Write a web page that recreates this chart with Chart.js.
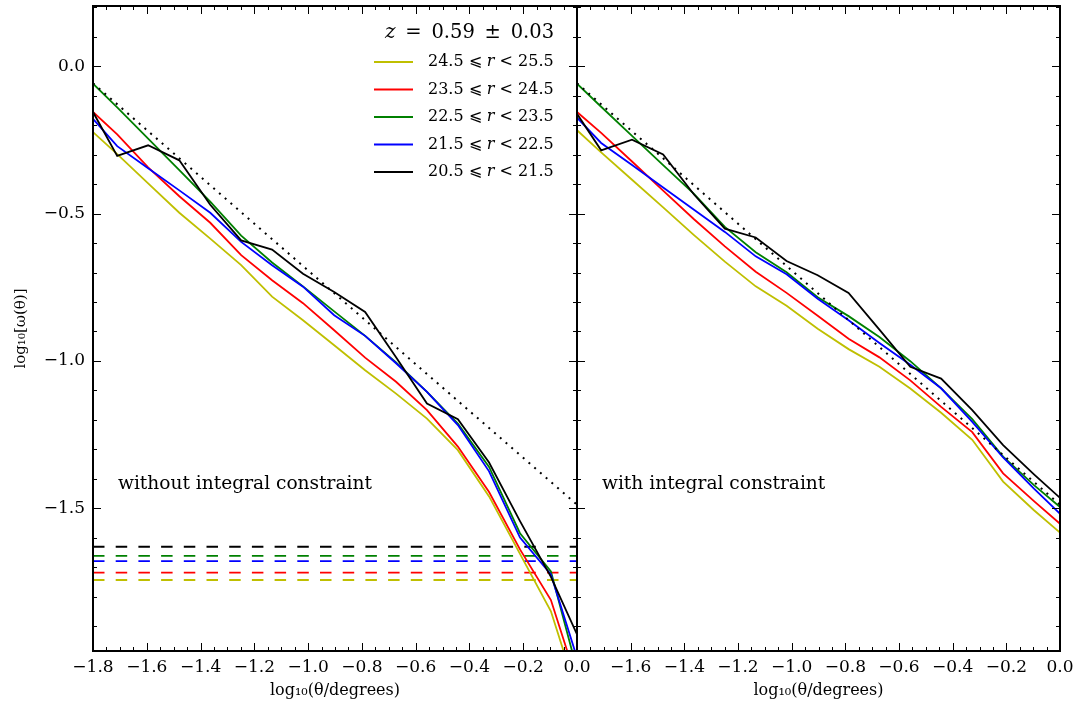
<!DOCTYPE html>
<html><head><meta charset="utf-8">
<script src="https://cdn.jsdelivr.net/npm/chart.js@4/dist/chart.umd.min.js"></script>
<style>
html,body{margin:0;padding:0;background:#fff;}
#wrap{position:relative;width:1084px;height:702px;background:#fff;}
canvas{position:absolute;left:0;top:0;}
</style></head><body>
<div id="wrap"><canvas id="cL" width="1084" height="702"></canvas><canvas id="cR" width="1084" height="702"></canvas></div>
<script>
// ---------- data ----------
const logTheta = [-1.8, -1.71, -1.595, -1.479, -1.364, -1.249, -1.134, -1.019, -0.903, -0.788, -0.673, -0.558, -0.443, -0.327, -0.212, -0.097, 0.018];

const seriesNames = ['24.5 ⩽ r < 25.5', '23.5 ⩽ r < 24.5', '22.5 ⩽ r < 23.5', '21.5 ⩽ r < 22.5', '20.5 ⩽ r < 21.5'];
const seriesColors = ['#bfbf00', '#ff0000', '#008000', '#0000ff', '#000000'];

// without integral constraint (left panel)
const noIC_r245 = [-0.223, -0.298, -0.397, -0.497, -0.585, -0.675, -0.782, -0.862, -0.947, -1.032, -1.111, -1.196, -1.303, -1.460, -1.655, -1.850, -2.180];
const noIC_r235 = [-0.155, -0.231, -0.343, -0.441, -0.531, -0.641, -0.726, -0.804, -0.896, -0.989, -1.071, -1.167, -1.291, -1.445, -1.640, -1.812, -2.140];
const noIC_r225 = [-0.059, -0.139, -0.245, -0.352, -0.459, -0.575, -0.666, -0.747, -0.832, -0.915, -1.005, -1.105, -1.213, -1.360, -1.585, -1.715, -2.110];
const noIC_r215 = [-0.178, -0.271, -0.346, -0.421, -0.497, -0.596, -0.675, -0.748, -0.845, -0.915, -1.008, -1.105, -1.218, -1.375, -1.600, -1.725, -2.060];
const noIC_r205 = [-0.155, -0.304, -0.268, -0.319, -0.470, -0.591, -0.622, -0.704, -0.766, -0.834, -0.988, -1.145, -1.198, -1.345, -1.544, -1.733, -1.965];

// with integral constraint (right panel)
const IC_r245 = [-0.217, -0.292, -0.385, -0.479, -0.573, -0.663, -0.747, -0.813, -0.891, -0.960, -1.020, -1.094, -1.176, -1.268, -1.410, -1.507, -1.597];
const IC_r235 = [-0.155, -0.226, -0.323, -0.422, -0.519, -0.611, -0.697, -0.769, -0.847, -0.925, -0.988, -1.066, -1.156, -1.242, -1.382, -1.476, -1.567];
const IC_r225 = [-0.059, -0.137, -0.236, -0.335, -0.433, -0.545, -0.631, -0.699, -0.784, -0.848, -0.919, -1.001, -1.093, -1.198, -1.325, -1.422, -1.510];
const IC_r215 = [-0.174, -0.260, -0.335, -0.411, -0.487, -0.562, -0.645, -0.706, -0.789, -0.862, -0.939, -1.013, -1.093, -1.207, -1.328, -1.434, -1.535];
const IC_r205 = [-0.161, -0.285, -0.249, -0.299, -0.435, -0.551, -0.581, -0.661, -0.709, -0.769, -0.894, -1.020, -1.060, -1.167, -1.286, -1.385, -1.480];

// integral constraint levels (dashed, left panel)
const icLevels = [-1.744, -1.719, -1.662, -1.680, -1.631];

// power-law reference (dotted)
const powerLawX = [-1.8, 0.0];
const powerLawY = [-0.057, -1.488];

// axes
const xRange = [-1.8, 0.0];
const yRange = [-1.985, 0.205];
const xMajorTicks = [-1.8, -1.6, -1.4, -1.2, -1.0, -0.8, -0.6, -0.4, -0.2, 0.0];
const yMajorTicks = [0.0, -0.5, -1.0, -1.5];
const xMinorStep = 0.05;
const yMinorStep = 0.1;

const legendTitle = 'z = 0.59 ± 0.03';
const panelNotes = ['without integral constraint', 'with integral constraint'];
const xTitle = 'log₁₀(θ/degrees)';
const yTitle = 'log₁₀[ω(θ)]';

// ---------- helpers ----------
const SERIF = '"DejaVu Serif", serif';
function fmt(v) {
  const s = Math.abs(v).toFixed(1);
  return (v < -1e-9 ? '\u2212' : '') + s;
}
function xy(xs, ys) { return xs.map((x, i) => ({x, y: ys[i]})); }

function buildDatasets(panel) {
  const sets = panel === 0
    ? [noIC_r245, noIC_r235, noIC_r225, noIC_r215, noIC_r205]
    : [IC_r245, IC_r235, IC_r225, IC_r215, IC_r205];
  const ds = [];
  sets.forEach((arr, i) => {
    ds.push({label: seriesNames[i], data: xy(logTheta, arr), borderColor: seriesColors[i],
      borderWidth: 1.8, pointRadius: 0, fill: false, tension: 0, order: 10 - i, clip: 0});
  });
  ds.push({label: 'power law', data: xy(powerLawX, powerLawY), borderColor: '#000',
    borderWidth: 2, borderDash: [2, 5.6], pointRadius: 0, fill: false, order: 0, clip: 0});
  if (panel === 0) {
    icLevels.forEach((v, i) => {
      ds.push({label: 'IC ' + seriesNames[i], data: xy(xRange, [v, v]), borderColor: seriesColors[i],
        borderWidth: 1.8, borderDash: [11.5, 11.2], pointRadius: 0, fill: false, order: 20 - i, clip: 0});
    });
  }
  return ds;
}

function richText(ctx, parts, x, y) {
  let cx = x;
  for (const p of parts) { ctx.font = p.f; ctx.fillText(p.t, cx, y); cx += ctx.measureText(p.t).width; }
}

const framePlugin = {
  id: 'frame',
  afterDraw(chart, args, opts) {
    const {ctx, chartArea: a, scales: {x, y}} = chart;
    ctx.save();
    ctx.strokeStyle = '#000';
    ctx.lineWidth = 1;
    const seg = (x1, y1, x2, y2) => { ctx.beginPath(); ctx.moveTo(x1, y1); ctx.lineTo(x2, y2); ctx.stroke(); };
    for (let v = xRange[0]; v <= xRange[1] + 1e-9; v += xMinorStep) {
      const p = Math.round(x.getPixelForValue(v)) + 0.5;
      seg(p, a.bottom, p, a.bottom - 4); seg(p, a.top, p, a.top + 4);
    }
    for (const v of xMajorTicks) {
      const p = Math.round(x.getPixelForValue(v)) + 0.5;
      seg(p, a.bottom, p, a.bottom - 8); seg(p, a.top, p, a.top + 8);
    }
    for (let v = -1.9; v <= yRange[1] + 1e-9; v += yMinorStep) {
      const p = Math.round(y.getPixelForValue(v)) + 0.5;
      seg(a.left, p, a.left + 4, p); seg(a.right, p, a.right - 4, p);
    }
    for (const v of yMajorTicks) {
      const p = Math.round(y.getPixelForValue(v)) + 0.5;
      seg(a.left, p, a.left + 8, p); seg(a.right, p, a.right - 8, p);
    }
    ctx.lineWidth = 2;
    ctx.strokeRect(a.left, a.top, a.right - a.left, a.bottom - a.top);

    ctx.fillStyle = '#000';
    ctx.font = '18.6px ' + SERIF;
    ctx.textBaseline = 'middle';
    ctx.textAlign = 'left';
    ctx.fillText(panelNotes[opts.panel], a.left + 25, a.top + 478);

    if (opts.panel === 0) {
      const lx = a.right - 203, tx = a.right - 149;
      const normal = '16px ' + SERIF, ital = 'italic 16px ' + SERIF;
      const zt = legendTitle.slice(0, 1), rest = legendTitle.slice(1);
      richText(ctx, [{t: zt, f: 'italic 20px ' + SERIF}, {t: rest.replace(/ /g, '\u2002'), f: '19.5px ' + SERIF}], a.right - 192, a.top + 27);
      seriesNames.forEach((name, i) => {
        const yy = a.top + 56 + i * 27.5;
        ctx.strokeStyle = seriesColors[i];
        ctx.lineWidth = 2;
        seg(lx, yy, lx + 39, yy);
        const [pre, post] = name.split(' r ');
        richText(ctx, [{t: pre + ' ', f: normal}, {t: 'r', f: ital}, {t: ' ' + post, f: normal}], tx, yy);
      });
    }
    ctx.restore();
  }
};

function makeChart(id, panel) {
  const padL = panel === 0 ? 0 : 577;
  const padR = panel === 0 ? 1084 - 577 : 1084 - 1060;
  return new Chart(document.getElementById(id), {
    type: 'line',
    data: {datasets: buildDatasets(panel)},
    plugins: [framePlugin],
    options: {
      responsive: false, animation: false, devicePixelRatio: 1,
      layout: {padding: {left: padL, right: padR, top: 6, bottom: 0}},
      plugins: {legend: {display: false}, tooltip: {enabled: false}, frame: {panel}},
      scales: {
        x: {
          type: 'linear', min: xRange[0], max: xRange[1],
          grid: {display: false, drawTicks: false}, border: {display: false},
          afterBuildTicks: s => { s.ticks = xMajorTicks.map(v => ({value: v})); },
          afterFit: s => { s.height = 51; s.paddingLeft = 0; s.paddingRight = 0; },
          ticks: {
            color: '#000', font: {family: SERIF, size: 17}, padding: 6, maxRotation: 0, autoSkip: false,
            callback: v => (panel === 1 && Math.abs(v - xRange[0]) < 1e-9) ? '' : fmt(v)
          },
          title: {display: true, text: xTitle, color: '#000', font: {family: SERIF, size: 16}, padding: {top: 0, bottom: 2}}
        },
        y: {
          type: 'linear', min: yRange[0], max: yRange[1], display: panel === 0,
          grid: {display: false, drawTicks: false}, border: {display: false},
          afterBuildTicks: s => { s.ticks = yMajorTicks.map(v => ({value: v})); },
          afterFit: s => { if (panel === 0) s.width = 93; s.paddingTop = 0; s.paddingBottom = 0; },
          ticks: {color: '#000', font: {family: SERIF, size: 17}, padding: 8, callback: v => fmt(v)},
          title: {display: true, text: yTitle, color: '#000', font: {family: SERIF, size: 15}, padding: {top: 12, bottom: 0}}
        }
      }
    }
  });
}
makeChart('cL', 0);
makeChart('cR', 1);
</script>
</body></html>
